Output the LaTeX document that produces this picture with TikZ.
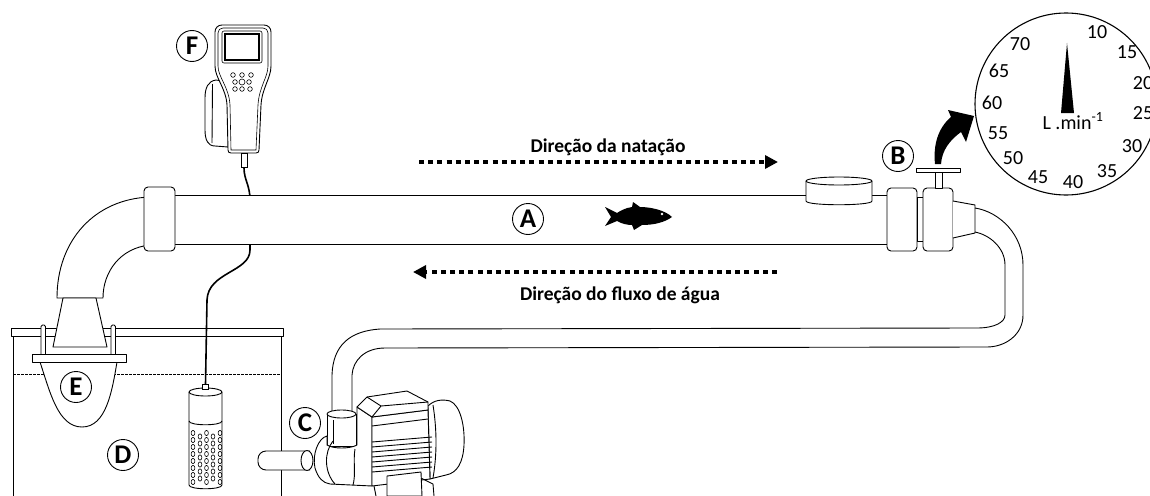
\documentclass[tikz,border=0pt]{standalone}
\usepackage{fontspec}
\setmainfont{Carlito}
\usetikzlibrary{arrows.meta}
\begin{document}
\begin{tikzpicture}[x=1pt,y=-1pt,
  outl/.style={draw=black,line width=0.9pt,line join=round},
  part/.style={outl,fill=white},
  thin/.style={draw=black,line width=0.6pt},
  tag/.style={circle,draw,line width=0.9pt,minimum size=31pt,inner sep=0pt,fill=white,font=\fontsize{27}{27}\selectfont\bfseries},
  dirlabel/.style={font=\fontsize{19.5}{19.5}\selectfont\bfseries,inner sep=0pt},
  scalenum/.style={font=\fontsize{20}{20}\selectfont,inner sep=0pt},
  flowarrow/.style={line width=4pt,dash pattern=on 5pt off 4.2pt,-{Triangle[length=13pt,width=13pt]}},
  plug/.style={draw,line width=0.8pt,fill=white,inner sep=0pt},
]
\path[use as bounding box] (0,0) rectangle (1150,495);
\clip (0,0) rectangle (1150,495);

% ---------- tank D ----------
\draw[outl] (13,336) -- (13,500);
\draw[outl] (281,336) -- (281,500);
\draw[line width=0.6pt,dash pattern=on 2.5pt off 1.5pt] (13,374) -- (281,374);
\draw[part] (11,328) rectangle (283,336);

% ---------- elbow and funnel ----------
\draw[part] (150,197) .. controls (95,199) and (57,240) .. (57,298) -- (103,298)
  .. controls (103,272) and (120,248) .. (150,245) -- cycle;
\draw[part] (63,298) -- (96,298) -- (107,347) -- (53,347) -- cycle;

% ---------- basket E ----------
\draw[part,rounded corners=1.5pt] (41,354) -- (41,325) -- (45.5,325) -- (45.5,354);
\draw[part,rounded corners=1.5pt] (111,354) -- (111,325) -- (115.5,325) -- (115.5,354);
\draw[part] (40,362) .. controls (50,392) and (58,427) .. (82,427)
  .. controls (106,427) and (112,392) .. (117,362) -- cycle;
\draw[part] (32,354) rectangle (126,362);

% ---------- hand-held meter F ----------
\draw[part] (228,82) -- (216,80) .. controls (208,81) and (205,88) .. (205,98) -- (205,130)
  .. controls (205,140) and (208,146) .. (215,146) -- (228,147);
\draw[outl] (212.5,84) -- (212,143);
\draw[part] (222,25) -- (264,25) .. controls (268,25) and (271,28) .. (271,32) -- (271,66)
  .. controls (271,78) and (262,88) .. (261,105) -- (259,150)
  .. controls (259,152) and (258,153) .. (256,153) -- (231,153)
  .. controls (229,153) and (228,152) .. (228,150) -- (227,105)
  .. controls (226,88) and (215,78) .. (215,66) -- (215,32)
  .. controls (215,28) and (218,25) .. (222,25) -- cycle;
\draw[thin] (223,28) -- (263,28) .. controls (266,28) and (268,30) .. (268,33) -- (268,66)
  .. controls (268,77) and (259,87) .. (258,105) -- (256,150) -- (231,150) -- (230,105)
  .. controls (229,87) and (218,77) .. (218,66) -- (218,33)
  .. controls (218,30) and (220,28) .. (223,28) -- cycle;
\draw[thin,rounded corners=2pt] (222,31) rectangle (262,63);
\draw[line width=1.2pt] (225,34) rectangle (259,60);
\foreach \bx/\by/\br in {233/75/2.3,242/75/2.3,251/75/2.3,235/82/2.3,242/82/3,249/82/2.3,235/89/2.3,242/89/2.3,250/89/2.3}
  \draw[thin] (\bx,\by) circle [radius=\br];
\node[plug,minimum width=6pt,minimum height=14pt,anchor=north] (mplug) at (244,153) {};

% ---------- probe ----------
\draw[part] (189,392) -- (189,485) .. controls (189,490) and (222,490) .. (222,485) -- (222,392);
\draw[part] (205.5,392) ellipse [x radius=16.5,y radius=4];
\draw[outl] (189,421) .. controls (189,426) and (222,426) .. (222,421);
\foreach \hx in {193,206.5,220}
  \foreach \k in {0,...,7}
    \draw[thin] (\hx,{433+7*\k}) ellipse [x radius=1.9,y radius=2.6];
\foreach \hx in {200,213}
  \foreach \k in {0,...,6}
    \draw[thin] (\hx,{436.5+7*\k}) ellipse [x radius=1.9,y radius=2.6];
\node[plug,minimum width=6pt,minimum height=5pt,anchor=south] (pplug) at (205.5,390) {};

% ---------- probe cable ----------
\draw[line width=1.6pt] (mplug.south) .. controls (244,180) and (250,185) .. (250,200) -- (250,250)
  .. controls (250,272) and (208,272) .. (207,300) -- (pplug.north);

% ---------- swim tunnel A ----------
\fill[white] (170,195) rectangle (890,244);
\draw[outl] (170,195) -- (890,195);
\draw[outl] (170,244) -- (890,244);
\draw[part,rounded corners=4pt] (144,187) rectangle (175,251);
% flow meter cylinder
\draw[part] (806,181) -- (806,201) .. controls (806,206) and (872,206) .. (872,201) -- (872,181);
\draw[part] (839,181) ellipse [x radius=33,y radius=4];
% couplings and valve B
\draw[part,rounded corners=4pt] (887,188) rectangle (917,251);
\draw[part] (917,197) rectangle (923,241);
\draw[part,rounded corners=4pt] (923,188) rectangle (953,251);
\draw[part] (953,201) -- (975,205) -- (975,233) -- (953,238);
\draw[part] (935,172) rectangle (942,188);
\draw[part] (916,168) rectangle (960,172);

% ---------- return hose ----------
\draw[outl] (975,208) .. controls (1000,212) and (1023,235) .. (1023,265) -- (1023,315)
  .. controls (1023,335) and (1005,347) .. (987,347) -- (385,348)
  .. controls (365,348) and (353,360) .. (352,375) -- (352,412);
\draw[outl] (975,232) .. controls (990,235) and (1005,248) .. (1005,265) -- (1005,315)
  .. controls (1005,322) and (995,328) .. (977,328) -- (380,329)
  .. controls (350,331) and (333,345) .. (332,375) -- (332,412);

% ---------- pump C ----------
\draw[part] (327,414) -- (327,446) -- (356,446) -- (356,414);
\draw[part] (341.5,414) ellipse [x radius=14.5,y radius=4];
\draw[part] (327,436) .. controls (318,438) and (312,455) .. (315,468)
  .. controls (318,478) and (323,483) .. (330,484) -- (372,486) -- (372,417) -- (357,407)
  -- (357,445) .. controls (350,449) and (333,449) .. (327,445) -- cycle;
\draw[outl] (333,441) .. controls (324,452) and (324,472) .. (335,484);
\draw[outl] (355,449) .. controls (353,460) and (356,475) .. (353,485);
\draw[outl] (333,420) -- (333,444);
\draw[part,rounded corners=8pt] (310,451) -- (258,451) -- (258,470) -- (310,470);
\draw[part] (307,460.5) ellipse [x radius=6,y radius=10];
% motor end cap
\draw[part] (428,406) .. controls (434,400) and (442,399) .. (450,401)
  .. controls (460,405) and (465,425) .. (464,445) .. controls (463,463) and (457,473) .. (446,475)
  -- (430,479) -- cycle;
\draw[outl] (433,405) .. controls (437,430) and (437,455) .. (433,478);
% motor body and cooling fins
\draw[part] (372,417) -- (428,410) -- (430,479) -- (372,486) -- cycle;
\draw[outl] (372,426) -- (428,419);
\foreach \k in {0,...,6}
  \draw[outl] (372,{442+5*\k}) -- (432,{437+5*\k});
% terminal box
\draw[part] (357,407) -- (367,397) -- (407,391) -- (428,402) -- (428,410) -- (372,417) -- cycle;
\draw[outl] (367,397) -- (381,406) -- (428,402);
\draw[outl] (381,406) -- (372,417);
% base
\draw[part] (387,476) -- (421,472) -- (422,496) -- (387,496) -- cycle;
\draw[outl] (374,486) -- (376,496);
\draw[outl] (421,478) -- (433,484) -- (434,496);

% ---------- direction arrows ----------
\coordinate (swimA) at (419,162);
\coordinate (swimB) at (778,162);
\coordinate (flowA) at (777,272);
\coordinate (flowB) at (413,272);
\draw[flowarrow] (swimA) -- (swimB);
\draw[flowarrow] (flowA) -- (flowB);
\node[dirlabel,anchor=base] (swimtxt) at (608,152) {Direção da natação};
\node[dirlabel,anchor=base] (flowtxt) at (620,300) {Direção do fluxo de água};

% ---------- fish ----------
\fill (672,217) .. controls (665,210) and (650,207) .. (640,207) -- (633,202) -- (632,207)
  .. controls (625,208) and (620,211) .. (617,213) -- (605,207) -- (611,217) -- (605,226)
  -- (617,221) .. controls (622,224) and (628,225) .. (632,225) -- (634,230) -- (642,225)
  .. controls (655,225) and (665,222) .. (672,217) -- cycle;
\fill[white] (662,214) circle [radius=1.3];

% ---------- flow scale ----------
\draw[line width=1.1pt,fill=white] (1066,104) circle [radius=91];
\fill (1067,43) -- (1074,113) -- (1061,113) -- cycle;
\node[scalenum,anchor=base] (unit) at (1073,129) {L .min\textsuperscript{-1}};
\foreach \v/\nx/\ny in {10/1097/32,15/1127/52,20/1143/83,25/1143/113,30/1132/146,35/1107/171,
  40/1073/182,45/1038/177,50/1013/158,55/998/133,60/992/103,65/999/71,70/1020/44}
  \node[scalenum] (s\v) at (\nx,\ny) {\v};
\fill (935,164) .. controls (933,145) and (938,128) .. (951,117) -- (948,110) -- (974,116)
  -- (966,142) -- (961,132) .. controls (950,140) and (942,150) .. (941,164) -- cycle;

% ---------- letters ----------
\node[tag] (tagA) at (528,219) {A};
\node[tag] (tagB) at (898,156) {B};
\node[tag] (tagC) at (305,423) {C};
\node[tag] (tagD) at (123,455) {D};
\node[tag] (tagE) at (76,387) {E};
\node[tag] (tagF) at (192,46) {F};
\end{tikzpicture}
\end{document}
